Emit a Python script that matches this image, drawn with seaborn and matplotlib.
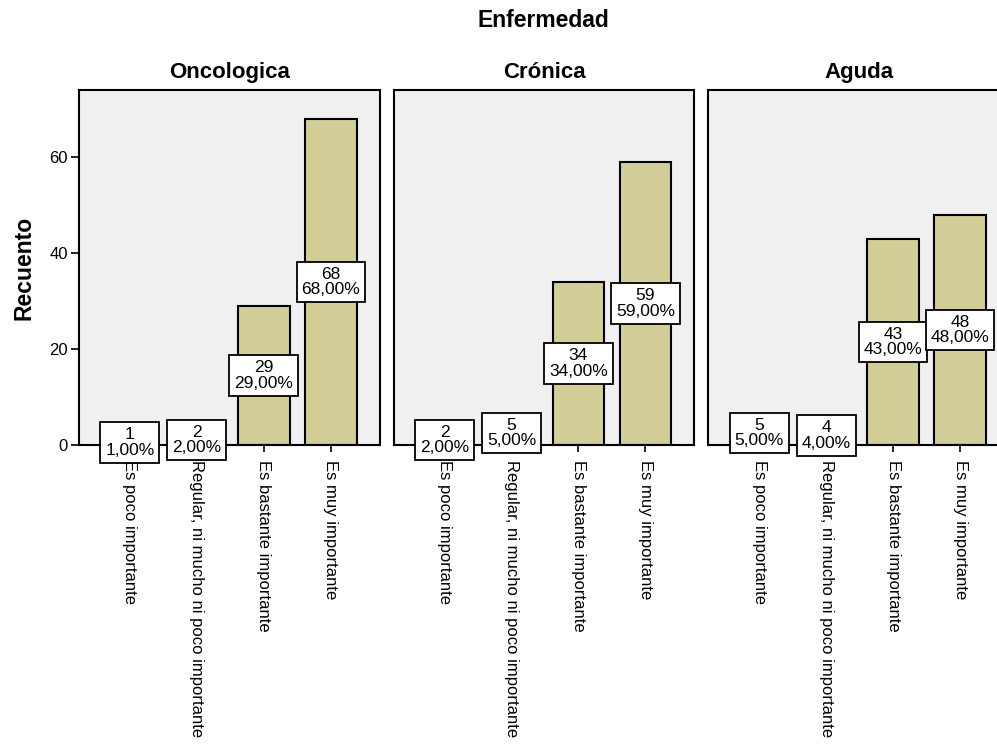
import pandas as pd
import seaborn as sns
import matplotlib.pyplot as plt

categorias = ["Es poco importante", "Regular, ni mucho ni poco importante",
              "Es bastante importante", "Es muy importante"]
enfermedades = ["Oncologica", "Crónica", "Aguda"]
oncologica = [1, 2, 29, 68]
cronica = [2, 5, 34, 59]
aguda = [5, 4, 43, 48]
porcentajes = {
    "Oncologica": ["1,00%", "2,00%", "29,00%", "68,00%"],
    "Crónica": ["2,00%", "5,00%", "34,00%", "59,00%"],
    "Aguda": ["5,00%", "4,00%", "43,00%", "48,00%"],
}

rows = []
for enf, vals in zip(enfermedades, [oncologica, cronica, aguda]):
    for cat, v, p in zip(categorias, vals, porcentajes[enf]):
        rows.append({"Enfermedad": enf, "Importancia": cat, "Recuento": v, "Pct": p})
df = pd.DataFrame(rows)

sns.set_style("white")
plt.rcParams["font.family"] = ["Liberation Sans", "DejaVu Sans"]
for k in ["text.color", "axes.labelcolor", "xtick.color", "ytick.color"]:
    plt.rcParams[k] = "black"

fig, axes = plt.subplots(1, 3, figsize=(9.97, 7.47), dpi=100, sharey=True)
fig.subplots_adjust(left=0.0792, right=1.012, top=0.8795, bottom=0.4043, wspace=0.0465)

for i, (ax, enf) in enumerate(zip(axes, enfermedades)):
    sub = df[df["Enfermedad"] == enf]
    sns.barplot(data=sub, x="Importancia", y="Recuento", order=categorias,
                color="#d3ce97", saturation=1, width=0.77,
                edgecolor="black", linewidth=1.5, ax=ax)
    ax.set_facecolor("#f0f0f0")
    for s in ax.spines.values():
        s.set_visible(True)
        s.set_color("black")
        s.set_linewidth(1.5)
    ax.set_xlim(-0.76, 3.73)
    ax.set_ylim(0, 74)
    ax.set_yticks([0, 20, 40, 60])
    ax.set_xlabel("")
    ax.set_ylabel("")
    ax.set_title(enf, fontsize=16, fontweight="bold", pad=9)
    ax.set_xticks(range(4))
    ax.set_xticklabels(categorias, rotation=270, fontsize=12, ha="center", va="top")
    ax.tick_params(axis="x", length=5, width=1.2, direction="out", bottom=True, pad=6)
    if i == 0:
        ax.tick_params(axis="y", length=6, width=1.2, direction="out", left=True,
                       labelsize=12, pad=2)
        ax.set_ylabel("Recuento", fontsize=16.5, fontweight="bold", labelpad=10)
    else:
        ax.tick_params(axis="y", left=False, labelleft=False)
    for j, (v, p) in enumerate(zip(sub["Recuento"], sub["Pct"])):
        ax.text(j, v / 2, f"{v}\n{p}", ha="center", va="center", fontsize=12.5,
                linespacing=1.05, zorder=10, clip_on=False,
                bbox=dict(boxstyle="square,pad=0.28", fc="white", ec="black", lw=1.3))

fig.text(0.545, 0.973, "Enfermedad", ha="center", va="center", fontsize=16.5, fontweight="bold")

fig.savefig("out.png", dpi=100)
